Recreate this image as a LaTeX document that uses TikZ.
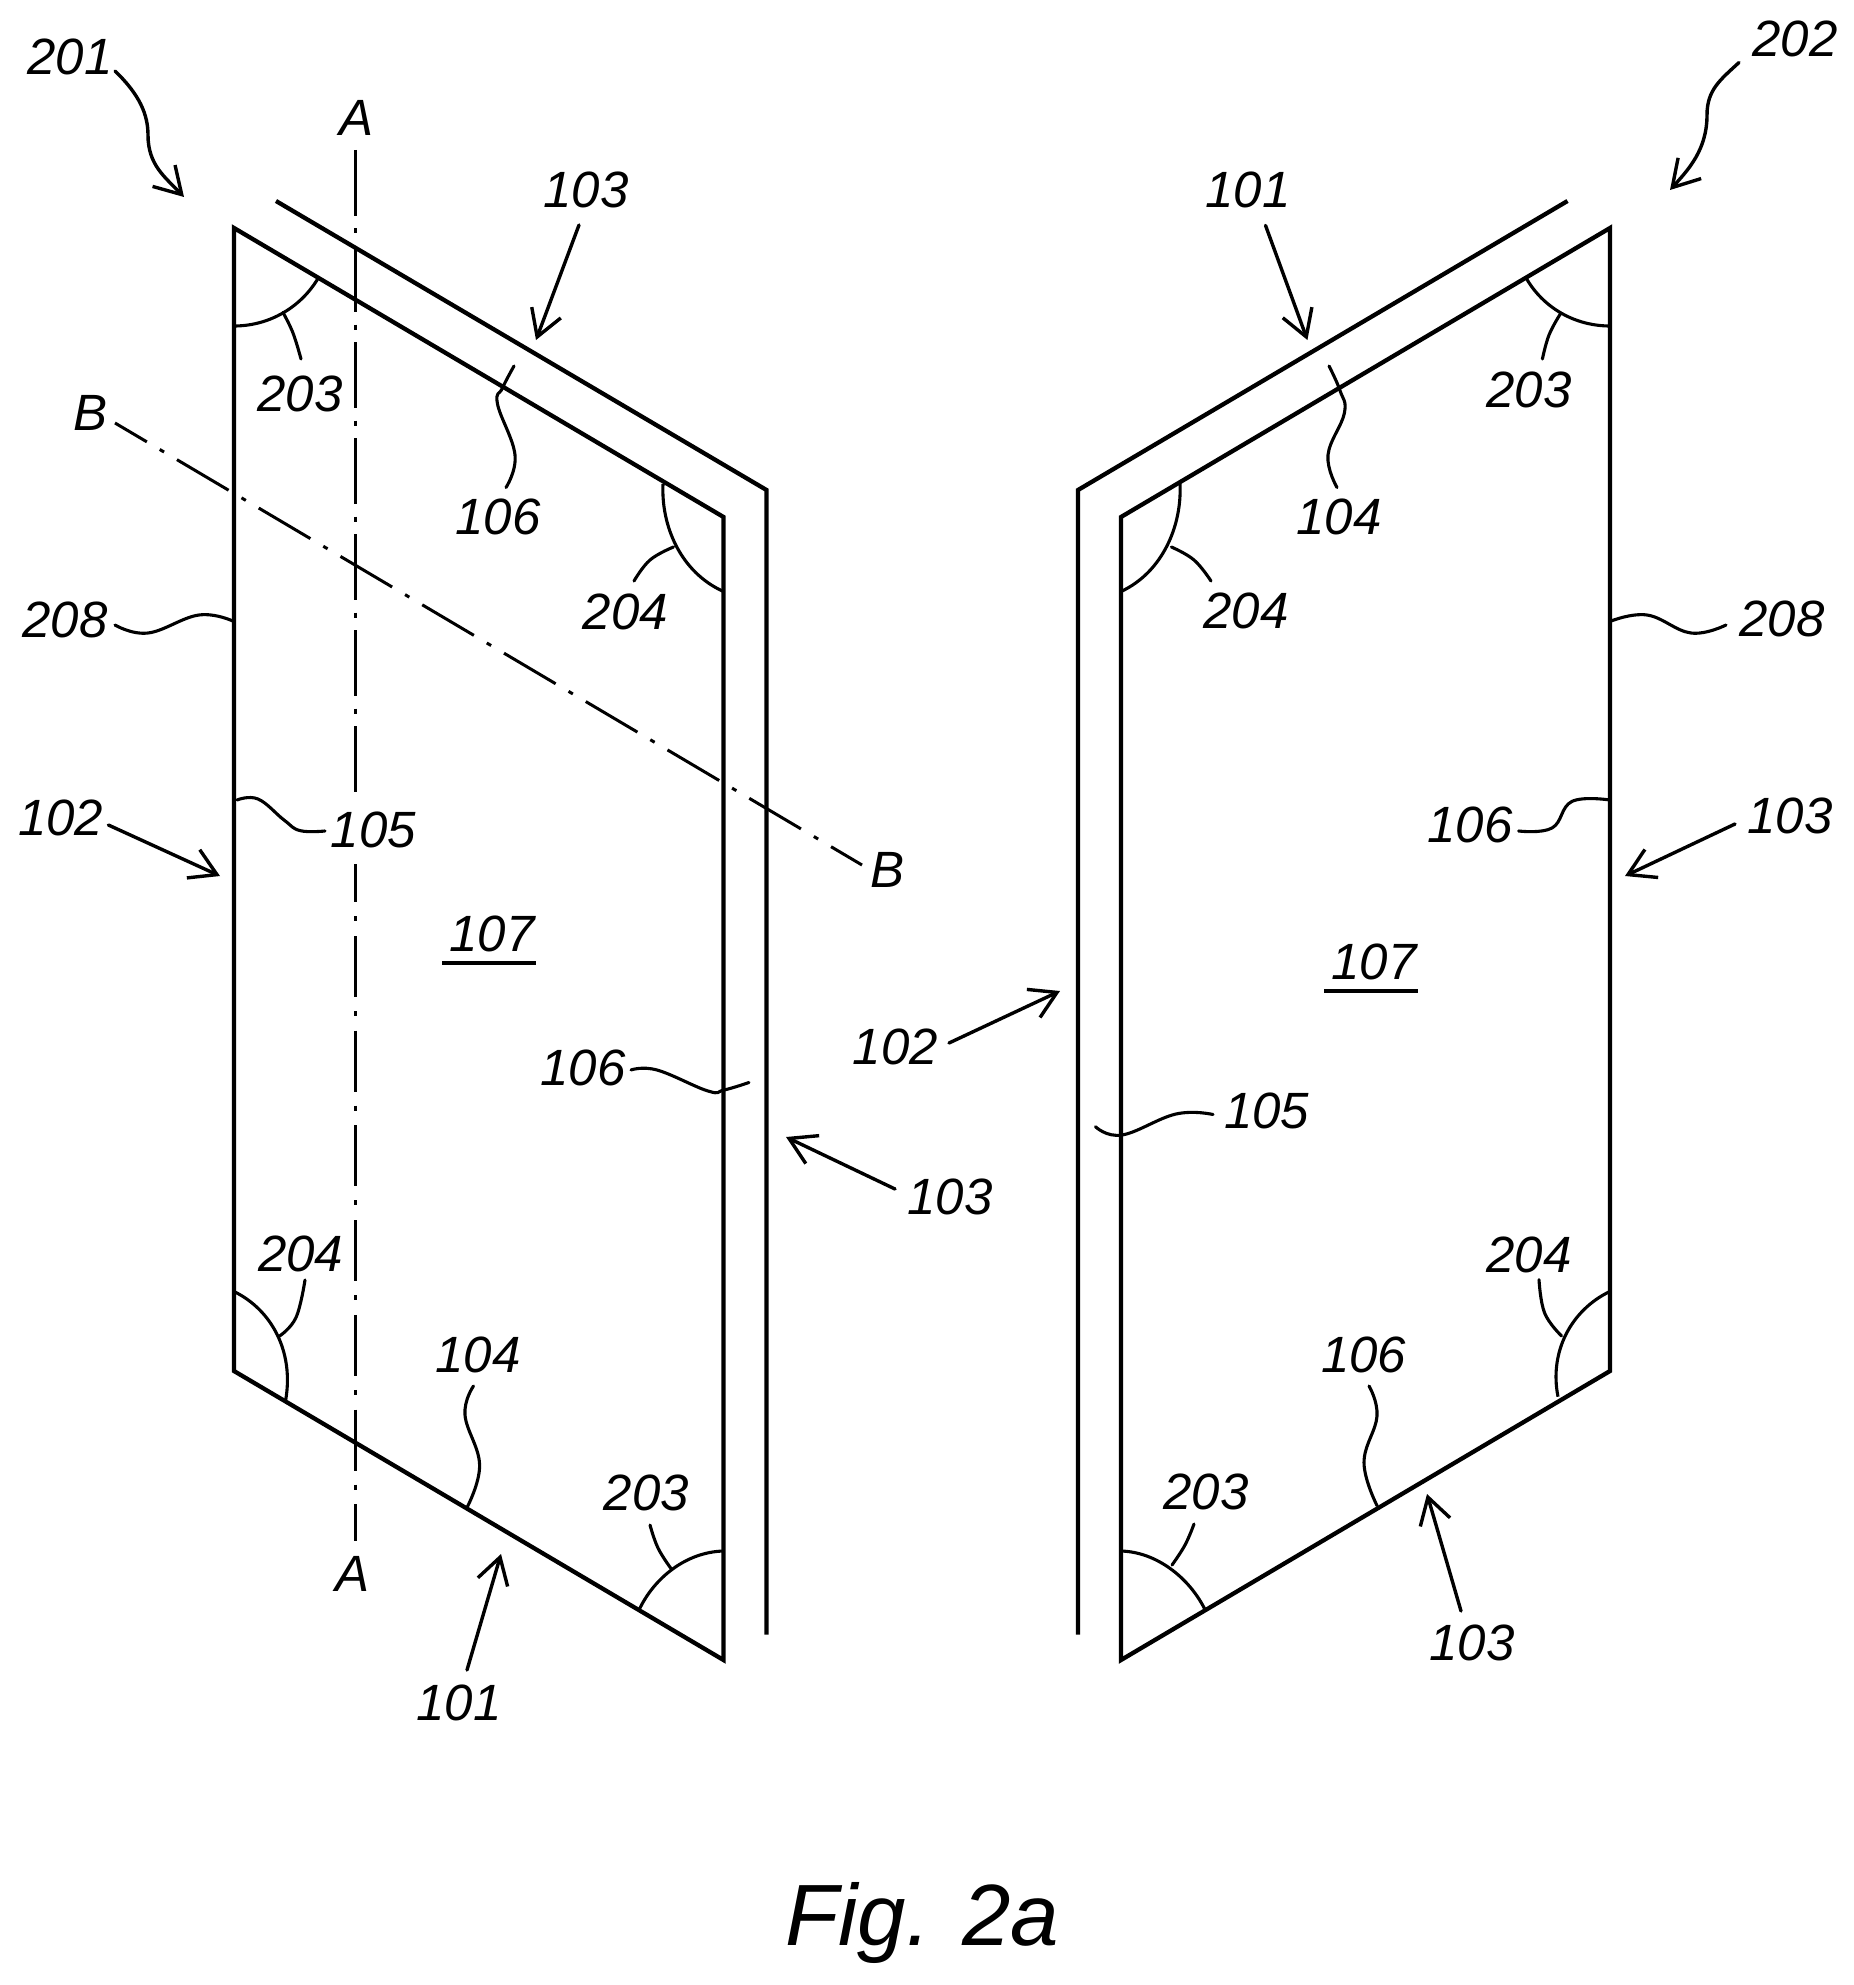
\documentclass[tikz,border=0pt]{standalone}
\usepackage{fontspec}
\setmainfont{Liberation Sans}
\usetikzlibrary{arrows.meta}
\tikzset{
  panel/.style={line width=4.3pt,line join=miter,line cap=butt},
  lead/.style={line width=3.1pt,line cap=round,line join=round},
  arr/.style={line width=3.4pt,line cap=round,-{Straight Barb[length=26pt,width=31pt]}},
  arc/.style={line width=3.1pt},
  lab/.style={font=\fontsize{51}{51}\selectfont\itshape,inner sep=0pt,anchor=base},
  figlab/.style={font=\fontsize{87}{87}\selectfont\itshape,inner sep=0pt,anchor=base west},
  centre/.style={line width=3pt},
  ul/.style={line width=4pt}
}
\begin{document}
\begin{tikzpicture}[x=1pt,y=-1pt]
\useasboundingbox (0,0) rectangle (1853,1985);
\fill[white] (0,0) rectangle (1853,1985);

% ---- panel corners
\coordinate (LTL) at (234,228);  \coordinate (LTR) at (723.5,517);
\coordinate (LBR) at (723.5,1660); \coordinate (LBL) at (234,1371);
\coordinate (LO1) at (276,201);  \coordinate (LO2) at (766.5,490); \coordinate (LO3) at (766.5,1634.5);
\coordinate (RTR) at (1610,228); \coordinate (RTL) at (1121,517);
\coordinate (RBL) at (1121,1660); \coordinate (RBR) at (1610,1371);
\coordinate (RO1) at (1567.5,201); \coordinate (RO2) at (1078,490); \coordinate (RO3) at (1078,1634.5);

\draw[panel] (LTL) -- (LTR) -- (LBR) -- (LBL) -- cycle;
\draw[panel] (LO1) -- (LO2) -- (LO3);
\draw[panel] (RTR) -- (RTL) -- (RBL) -- (RBR) -- cycle;
\draw[panel] (RO1) -- (RO2) -- (RO3);

% ---- section lines
\coordinate (Aa) at (355,150); \coordinate (Ab) at (355,792);
\coordinate (Ac) at (355,864); \coordinate (Ad) at (355,1541);
\draw[centre,dash pattern=on 66pt off 12.5pt on 5pt off 12.5pt] (Aa) -- (Ab);
\draw[centre,dash pattern=on 61pt off 14pt on 5pt off 14.7pt,dash phase=22.7pt] (Ac) -- (Ad);
\coordinate (Ba) at (115,423); \coordinate (Bb) at (862,865);
\draw[centre,dash pattern=on 60pt off 15pt on 5pt off 15pt,dash phase=23pt] (Ba) -- (Bb);

% ---- labels
\node[lab] (t201) at (70,75) {201};
\node[lab] (t202) at (1795,56.7) {202};
\node[lab] (tAt) at (357,136) {A};
\node[lab] (tAb) at (353,1591.5) {A};
\node[lab] (tBt) at (91,430) {B};
\node[lab] (tBb) at (887,887) {B};
\node[lab] (a103) at (586,207.6) {103};
\node[lab] (a203) at (300,411.6) {203};
\node[lab] (a106) at (498,534) {106};
\node[lab] (a204) at (625.5,629.5) {204};
\node[lab] (a208) at (65,637.5) {208};
\node[lab] (a102) at (60.6,835.6) {102};
\node[lab] (a105) at (373.4,847) {105};
\node[lab] (a107) at (492,951) {107};
\node[lab] (b106) at (583,1085) {106};
\node[lab] (b103) at (950,1214.5) {103};
\node[lab] (b204) at (300.7,1271) {204};
\node[lab] (a104) at (478,1372.5) {104};
\node[lab] (b203) at (646.5,1510) {203};
\node[lab] (a101) at (459,1720) {101};
\node[lab] (c101) at (1248,207.6) {101};
\node[lab] (c203) at (1529,407) {203};
\node[lab] (c104) at (1339,534) {104};
\node[lab] (c204) at (1246,628.6) {204};
\node[lab] (c208) at (1782,636) {208};
\node[lab] (c106) at (1470,842.4) {106};
\node[lab] (c103) at (1790,833) {103};
\node[lab] (c107) at (1374,979.4) {107};
\node[lab] (c102) at (895.4,1064) {102};
\node[lab] (c105) at (1266.7,1128) {105};
\node[lab] (d204) at (1529,1272) {204};
\node[lab] (d106) at (1363.7,1372.8) {106};
\node[lab] (d203) at (1206,1509.6) {203};
\node[lab] (d103) at (1472,1660) {103};
\node[figlab] (fig) at (785,1945) {Fig. 2a};

% ---- underlines
\coordinate (u1a) at (442,962.7); \coordinate (u1b) at (535.7,962.7);
\coordinate (u2a) at (1324,991);  \coordinate (u2b) at (1418,991);
\draw[ul] (u1a) -- (u1b);
\draw[ul] (u2a) -- (u2b);

% ---- wavy arrows
\coordinate (w1) at (115,71);   \coordinate (w1t) at (184,197);
\coordinate (w2) at (1739,62.5); \coordinate (w2t) at (1670,190);
\draw[arr] (w1) .. controls (140,95) and (148,115) .. (148,135) .. controls (148,165) and (165,177) .. (w1t);
\draw[arr] (w2) .. controls (1720,80) and (1707,90) .. (1707,115) .. controls (1707,150) and (1688,170) .. (w2t);

% ---- straight arrows
\coordinate (p1) at (579,225);    \coordinate (p1t) at (536,340);
\coordinate (p2) at (108.4,825);  \coordinate (p2t) at (220,876);
\coordinate (p3) at (895,1189);   \coordinate (p3t) at (786,1137);
\coordinate (p4) at (467,1670);   \coordinate (p4t) at (501,1554);
\coordinate (p5) at (1265.5,225.4); \coordinate (p5t) at (1307.4,340);
\coordinate (p6) at (949,1043);   \coordinate (p6t) at (1060,991);
\coordinate (p7) at (1735,824);   \coordinate (p7t) at (1625,876);
\coordinate (p8) at (1461,1611);  \coordinate (p8t) at (1427,1494);
\draw[arr] (p1) -- (p1t);
\draw[arr] (p2) -- (p2t);
\draw[arr] (p3) -- (p3t);
\draw[arr] (p4) -- (p4t);
\draw[arr] (p5) -- (p5t);
\draw[arr] (p6) -- (p6t);
\draw[arr] (p7) -- (p7t);
\draw[arr] (p8) -- (p8t);

% ---- angle arcs
\draw[arc] (234,326) .. controls (268.8,326) and (300.7,307.8) .. (318.4,277.8);
\draw[arc] (663,484) .. controls (661,525) and (680,572) .. (723.5,591.5);
\draw[arc] (234,1291.5) .. controls (272,1310) and (294,1352) .. (285.7,1400);
\draw[arc] (723.5,1551) .. controls (686,1552) and (654,1578) .. (639,1610);
\draw[arc] (1610,326) .. controls (1575,326) and (1543,307.8) .. (1526,277.8);
\draw[arc] (1180,484) .. controls (1182,525) and (1163,572) .. (1121,591.5);
\draw[arc] (1610,1291.4) .. controls (1571,1310) and (1549,1352) .. (1558,1396.7);
\draw[arc] (1121,1551) .. controls (1157,1552) and (1189,1578) .. (1204.5,1608.6);

% ---- wavy leaders
\draw[lead] plot[smooth,tension=.7] coordinates {(514,366) (502.5,388) (497.5,404) (515,455) (506,487.5)};
\draw[lead] plot[smooth,tension=.7] coordinates {(283,312.5) (293,333) (301,359)};
\draw[lead] plot[smooth,tension=.7] coordinates {(673.5,547) (650,560) (634,581)};
\draw[lead] plot[smooth,tension=.7] coordinates {(115,625) (148,633) (199,615) (234,621.5)};
\draw[lead] plot[smooth,tension=.7] coordinates {(237,800) (258,799) (284,820) (300,830.6) (325,831)};
\draw[lead] plot[smooth,tension=.7] coordinates {(631,1070) (657,1070) (708,1091) (724,1090) (749,1082.5)};
\draw[lead] plot[smooth,tension=.7] coordinates {(305,1280) (296,1317.5) (279.6,1336)};
\draw[lead] plot[smooth,tension=.7] coordinates {(473.5,1386) (465,1415) (479.6,1465) (467,1507.5)};
\draw[lead] plot[smooth,tension=.7] coordinates {(650,1525) (658,1548) (671,1568.5)};
\draw[lead] plot[smooth,tension=.7] coordinates {(1329,366) (1340,390.6) (1344.4,413) (1328,455) (1337,487.5)};
\draw[lead] plot[smooth,tension=.7] coordinates {(1560.4,313.8) (1549,335) (1542.4,359)};
\draw[lead] plot[smooth,tension=.7] coordinates {(1171.4,547) (1194,560) (1211,581)};
\draw[lead] plot[smooth,tension=.7] coordinates {(1610,621.4) (1647,615) (1691,633) (1726,625)};
\draw[lead] plot[smooth,tension=.7] coordinates {(1518.6,831) (1552,828) (1572,801.4) (1610,800)};
\draw[lead] plot[smooth,tension=.7] coordinates {(1095.5,1126.7) (1122,1135) (1176,1114) (1213,1114.5)};
\draw[lead] plot[smooth,tension=.7] coordinates {(1539,1279.7) (1544.6,1313) (1561.6,1336)};
\draw[lead] plot[smooth,tension=.7] coordinates {(1369,1386) (1377,1416) (1364,1462.5) (1377,1505.6)};
\draw[lead] plot[smooth,tension=.7] coordinates {(1194,1524) (1185,1545) (1172,1565)};
\end{tikzpicture}
\end{document}
